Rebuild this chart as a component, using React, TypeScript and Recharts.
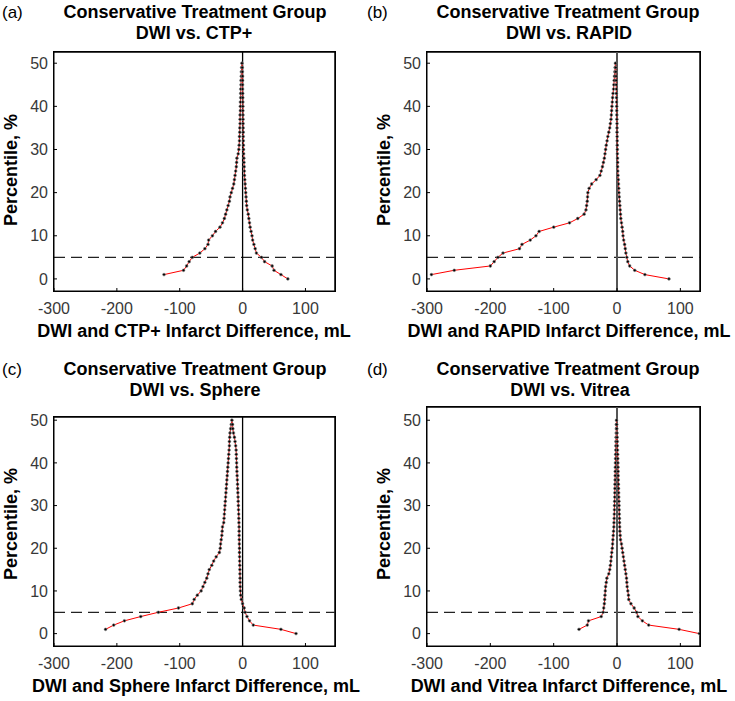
import React from 'react';
import { LineChart, Line, XAxis, YAxis, ReferenceLine } from 'recharts';

// percentile rank of each point: left branch climbs, right branch descends
const leftPct = [1, 2, 3, 4, 5, 6, 7, 8, 9, 10, 11, 12, 13, 14, 15, 16, 17, 18, 19, 20, 21, 22, 23, 24, 25, 26, 27, 28, 29, 30, 31, 32, 33, 34, 35, 36, 37, 38, 39, 40, 41, 42, 43, 44, 45, 46, 47, 48, 49, 50];
const rightPct = [49, 48, 47, 46, 45, 44, 43, 42, 41, 40, 39, 38, 37, 36, 35, 34, 33, 32, 31, 30, 29, 28, 27, 26, 25, 24, 23, 22, 21, 20, 19, 18, 17, 16, 15, 14, 13, 12, 11, 10, 9, 8, 7, 6, 5, 4, 3, 2, 1, 0];

// infarct differences (mL)
const ctpLeft = [-125, -94, -89, -85, -80, -68, -60, -55, -54, -48, -43, -36, -32, -29, -27, -25, -23, -21, -20, -18, -16, -14, -13, -12, -11, -10, -9.5, -9, -7, -6, -5.5, -5, -5, -4.5, -4.5, -4, -4, -4, -3.5, -3.5, -3.5, -3, -3, -3, -2.5, -2.5, -2, -2, -1.5, -1];
const ctpRight = [-0.5, -0.3, 0, 0, 0, 0, 0.2, 0.3, 0.4, 0.5, 0.5, 0.6, 0.7, 0.8, 0.9, 1, 1, 1.2, 1.3, 1.5, 1.7, 2, 2.2, 2.5, 2.8, 3, 3.5, 4, 4.5, 5, 5.5, 6, 6.5, 7.5, 9, 10, 11, 12, 13.5, 15, 16, 18, 20, 22, 30, 35, 47, 50, 61, 72];

const rapidLeft = [-293, -257, -200, -194, -188, -180, -154, -150, -137, -128, -123, -100, -75, -62, -52, -49, -48, -47, -46.5, -46, -44, -40, -33, -27, -25, -23, -21.5, -20, -19, -18, -17, -15.7, -14.5, -13, -11.5, -10.5, -9.5, -9, -8.5, -8, -7.5, -7, -6.3, -5.5, -5, -4.5, -4, -3.5, -3, -2.5];
const rapidRight = [-2, -1.8, -1.5, -1.3, -1.2, -1, -1, -0.8, -0.7, -0.5, -0.4, -0.3, -0.2, 0, 0, 0, 0.2, 0.3, 0.4, 0.5, 0.6, 0.8, 1, 1, 1.2, 1.5, 2, 2.3, 2.7, 3, 3.5, 4, 4.5, 5, 5.5, 6, 7, 8, 9, 9.5, 10.5, 12, 13, 14, 15.5, 17, 20, 28, 44, 82];

const sphereLeft = [-218, -205, -188, -162, -134, -102, -80, -77, -72, -66, -63, -60, -57, -55, -53, -49, -46, -42, -37, -35.5, -35, -34, -33, -32.5, -32, -30, -29.5, -29, -28.5, -28, -27.5, -27, -26.5, -26, -25.5, -25, -24.5, -24, -23.5, -23, -22.5, -22, -21.5, -21, -21, -20.5, -20, -19, -18, -17];
const sphereRight = [-16, -15.5, -14.5, -13, -12, -11, -10.3, -10, -9.8, -9.5, -9.3, -9, -8.7, -8.3, -8, -7.8, -7.5, -7.2, -7, -6.7, -6.5, -6.2, -6, -5.8, -5.6, -5.5, -5.5, -5.3, -5.2, -5, -5, -4.8, -4.7, -4.5, -4.3, -4.2, -4, -4, -3.8, -3.5, -3, -2, 0, 2.5, 4, 7, 11, 17, 61, 85];

const vitreaLeft = [-60, -47, -45, -25, -22, -21, -20, -19.5, -19, -18.5, -18, -17, -16, -13, -11.5, -10.5, -9.7, -9, -8.3, -7.5, -7, -6.5, -6, -5.5, -5, -4.8, -4.5, -4.3, -4.1, -4, -3.8, -3.6, -3.5, -3.3, -3.2, -3, -2.9, -2.8, -2.6, -2.5, -2.3, -2.2, -2, -1.9, -1.7, -1.5, -1.3, -1.1, -1, -0.8];
const vitreaRight = [-0.5, -0.3, 0, 0.2, 0.4, 0.6, 0.8, 1, 1.2, 1.4, 1.5, 1.7, 1.8, 2, 2.2, 2.4, 2.6, 2.8, 3, 3.2, 3.4, 3.6, 3.8, 4, 4.2, 4.5, 5, 5.5, 7, 8, 9, 10, 11, 12, 13, 14, 15, 15.5, 16, 17, 18, 18.5, 22, 27, 31, 33, 40, 50, 98, 130];

const xTicks = [-300, -200, -100, 0, 100];
const yTicks = [0, 10, 20, 30, 40, 50];

const FONT = '"Liberation Sans", Arial, Helvetica, sans-serif';

const build = (l: number[], r: number[]) => [
  ...l.map((x, i) => ({ x, y: leftPct[i] })),
  ...r.map((x, i) => ({ x, y: rightPct[i] })),
];

type PanelProps = {
  data: { x: number; y: number }[];
  left: number;
  top: number;
  width: number;
  height: number;
  margin: { top: number; right: number; bottom: number; left: number };
  xDomain: [number, number];
  yDomain: [number, number];
  zeroColor: string;
  zeroWidth: number;
};

const Panel = ({ data, left, top, width, height, margin, xDomain, yDomain, zeroColor, zeroWidth }: PanelProps) => (
  <div style={{ position: 'absolute', left, top, width, height }}>
    <LineChart width={width} height={height} data={data} margin={margin}>
      <XAxis
        type="number"
        dataKey="x"
        domain={xDomain}
        ticks={xTicks}
        allowDataOverflow
        height={30}
        tickSize={-3}
        tickMargin={15}
        axisLine={{ stroke: '#000' }}
        tickLine={{ stroke: '#000' }}
        tick={{ fill: '#383838', fontSize: 16, fontFamily: FONT }}
      />
      <YAxis
        type="number"
        domain={yDomain}
        ticks={yTicks}
        allowDataOverflow
        width={40}
        tickSize={-3}
        tickMargin={9}
        axisLine={{ stroke: '#000' }}
        tickLine={{ stroke: '#000' }}
        tick={{ fill: '#383838', fontSize: 16, fontFamily: FONT }}
      />
      {/* top and right edges of the axes box */}
      <ReferenceLine y={yDomain[1]} stroke="#000" strokeWidth={1.5} />
      <ReferenceLine x={xDomain[1]} stroke="#000" strokeWidth={1.5} />
      <ReferenceLine y={5} stroke="#222" strokeWidth={1.2} strokeDasharray="11 6" />
      <ReferenceLine x={0} stroke={zeroColor} strokeWidth={zeroWidth} />
      <Line
        dataKey="y"
        stroke="#ff0000"
        strokeWidth={1}
        dot={{ r: 1.4, fill: '#000', stroke: '#888', strokeWidth: 0.6 }}
        isAnimationActive={false}
      />
    </LineChart>
  </div>
);

// plot boxes (page pixels) for the frame overlay
const frames = [
  { left: 54, top: 52, width: 281, height: 239 },
  { left: 427, top: 52, width: 273, height: 239 },
  { left: 54, top: 417, width: 281, height: 229 },
  { left: 427, top: 407, width: 273, height: 239 },
];

const texts = [
  { label: '(a)', x: 2, y: 18, anchor: 'start', bold: false, size: 17 },
  { label: 'Conservative Treatment Group', x: 195, y: 18, anchor: 'middle', bold: true, size: 18 },
  { label: 'DWI vs. CTP+', x: 194, y: 39, anchor: 'middle', bold: true, size: 18 },
  { label: 'DWI and CTP+ Infarct Difference, mL', x: 194, y: 337, anchor: 'middle', bold: true, size: 18 },
  { label: '(b)', x: 367, y: 18, anchor: 'start', bold: false, size: 17 },
  { label: 'Conservative Treatment Group', x: 568, y: 18, anchor: 'middle', bold: true, size: 18 },
  { label: 'DWI vs. RAPID', x: 569, y: 39, anchor: 'middle', bold: true, size: 18 },
  { label: 'DWI and RAPID Infarct Difference, mL', x: 569, y: 337, anchor: 'middle', bold: true, size: 18 },
  { label: '(c)', x: 2, y: 375, anchor: 'start', bold: false, size: 17 },
  { label: 'Conservative Treatment Group', x: 195, y: 375, anchor: 'middle', bold: true, size: 18 },
  { label: 'DWI vs. Sphere', x: 195, y: 396, anchor: 'middle', bold: true, size: 18 },
  { label: 'DWI and Sphere Infarct Difference, mL', x: 196, y: 692, anchor: 'middle', bold: true, size: 18 },
  { label: '(d)', x: 367, y: 375, anchor: 'start', bold: false, size: 17 },
  { label: 'Conservative Treatment Group', x: 568, y: 375, anchor: 'middle', bold: true, size: 18 },
  { label: 'DWI vs. Vitrea', x: 570, y: 396, anchor: 'middle', bold: true, size: 18 },
  { label: 'DWI and Vitrea Infarct Difference, mL', x: 569, y: 692, anchor: 'middle', bold: true, size: 18 },
];

const yLabels = [
  { x: 17, y: 170 },
  { x: 390, y: 170 },
  { x: 17, y: 524 },
  { x: 390, y: 524 },
];

export default function App() {
  return (
    <div style={{ position: 'absolute', left: 0, top: 0, width: 735, height: 701, background: '#fff', fontFamily: FONT }}>
      <Panel
        data={build(ctpLeft, ctpRight)}
        left={0}
        top={0}
        width={367}
        height={350}
        margin={{ top: 52, right: 32, bottom: 29, left: 14 }}
        xDomain={[-300, 147]}
        yDomain={[-2.8, 52.6]}
        zeroColor="#000"
        zeroWidth={1.3}
      />
      <Panel
        data={build(rapidLeft, rapidRight)}
        left={367}
        top={0}
        width={368}
        height={350}
        margin={{ top: 52, right: 35, bottom: 29, left: 20 }}
        xDomain={[-300, 131]}
        yDomain={[-2.8, 52.6]}
        zeroColor="#555"
        zeroWidth={2}
      />
      <Panel
        data={build(sphereLeft, sphereRight)}
        left={0}
        top={350}
        width={367}
        height={351}
        margin={{ top: 67, right: 32, bottom: 25, left: 14 }}
        xDomain={[-300, 147]}
        yDomain={[-2.9, 50.75]}
        zeroColor="#000"
        zeroWidth={1.3}
      />
      <Panel
        data={build(vitreaLeft, vitreaRight)}
        left={367}
        top={350}
        width={368}
        height={351}
        margin={{ top: 57, right: 35, bottom: 25, left: 20 }}
        xDomain={[-300, 131]}
        yDomain={[-2.9, 53.1]}
        zeroColor="#555"
        zeroWidth={2}
      />
      <svg width={735} height={701} style={{ position: 'absolute', left: 0, top: 0, pointerEvents: 'none' }}>
        {texts.map((t, i) => (
          <text
            key={i}
            x={t.x}
            y={t.y}
            textAnchor={t.anchor as 'start' | 'middle'}
            fontSize={t.size}
            fontWeight={t.bold ? 'bold' : 'normal'}
            fontFamily={FONT}
            fill="#000"
          >
            {t.label}
          </text>
        ))}
        {yLabels.map((p, i) => (
          <text
            key={`y${i}`}
            x={p.x}
            y={p.y}
            transform={`rotate(-90 ${p.x} ${p.y})`}
            textAnchor="middle"
            fontSize={18}
            fontWeight="bold"
            fontFamily={FONT}
            fill="#000"
          >
            Percentile, %
          </text>
        ))}
      </svg>
      {frames.map((f, i) => (
        <div
          key={`f${i}`}
          style={{
            position: 'absolute',
            left: f.left - 1,
            top: f.top - 1,
            width: f.width,
            height: f.height,
            border: '1px solid #000',
            zIndex: 5,
            pointerEvents: 'none',
          }}
        />
      ))}
    </div>
  );
}
